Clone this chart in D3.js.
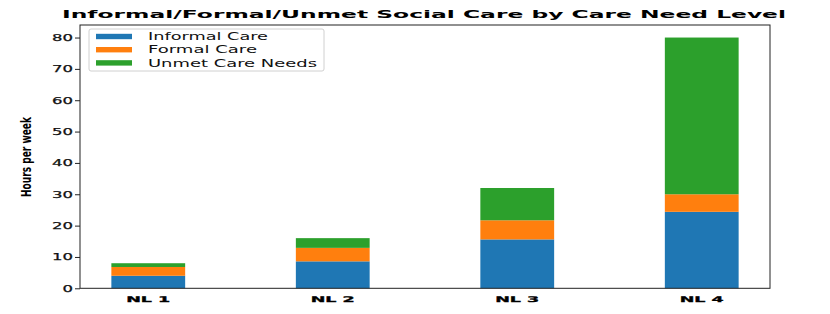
<!DOCTYPE html>
<html>
<head>
<meta charset="utf-8">
<script src="https://cdn.jsdelivr.net/npm/d3@7"></script>
<style>
  body { margin: 0; background: #fff; }
  text { font-family: "DejaVu Sans", sans-serif; }
</style>
</head>
<body>
<div id="chart"></div>
<script>
const width = 830;
const height = 314;

// data
const categories = ["NL 1", "NL 2", "NL 3", "NL 4"];
const informal = [4.0, 8.6, 15.6, 24.4];
const formal = [2.8, 4.3, 6.1, 5.6];
const unmet = [1.2, 3.1, 10.3, 50.0];
const seriesNames = ["Informal Care", "Formal Care", "Unmet Care Needs"];
const colors = ["#1f77b4", "#ff7f0e", "#2ca02c"];
const yTicks = [0, 10, 20, 30, 40, 50, 60, 70, 80];

const margin = { left: 80, right: 60, top: 25, bottom: 25.7 };

const svg = d3.select("#chart")
  .append("svg")
  .attr("width", width)
  .attr("height", height);

// scales
const x = d3.scaleLinear()
  .domain([-0.37, categories.length - 1 + 0.37])
  .range([margin.left, width - margin.right]);
const y = d3.scaleLinear()
  .domain([0, 84])
  .range([height - margin.bottom, margin.top]);
const barW = x(0.2) - x(-0.2);

// stacked data
const rows = categories.map((c, i) => ({
  cat: c, i: i,
  "Informal Care": informal[i],
  "Formal Care": formal[i],
  "Unmet Care Needs": unmet[i]
}));
const stacked = d3.stack().keys(seriesNames)(rows);

svg.selectAll("g.layer")
  .data(stacked)
  .enter()
  .append("g")
  .attr("class", "layer")
  .attr("fill", (d, k) => colors[k])
  .selectAll("rect")
  .data(d => d)
  .enter()
  .append("rect")
  .attr("x", d => x(d.data.i) - barW / 2)
  .attr("width", barW)
  .attr("y", d => y(d[1]))
  .attr("height", d => y(d[0]) - y(d[1]));

// frame
svg.append("rect")
  .attr("x", x.range()[0])
  .attr("y", y.range()[1])
  .attr("width", x.range()[1] - x.range()[0])
  .attr("height", y.range()[0] - y.range()[1])
  .attr("fill", "none")
  .attr("stroke", "#222")
  .attr("stroke-width", 1);

// y axis
const yAxis = svg.append("g")
  .attr("transform", `translate(${margin.left},0)`)
  .call(d3.axisLeft(y).tickValues(yTicks).tickSize(5).tickPadding(2));
yAxis.select(".domain").remove();
yAxis.selectAll(".tick line").attr("stroke", "#222");
yAxis.selectAll(".tick text")
  .attr("fill", "#111")
  .attr("stroke", "#111")
  .attr("stroke-width", 0.25)
  .style("font-size", "9.2px")
  .attr("textLength", d => String(d).length * 10.5)
  .attr("lengthAdjust", "spacingAndGlyphs");

// x labels
svg.append("g")
  .selectAll("text")
  .data(categories)
  .enter()
  .append("text")
  .attr("x", (d, i) => x(i))
  .attr("y", 301.7)
  .attr("text-anchor", "middle")
  .style("font-size", "7.8px")
  .style("font-weight", "bold")
  .attr("stroke", "#000")
  .attr("stroke-width", 0.3)
  .attr("textLength", 44)
  .attr("lengthAdjust", "spacingAndGlyphs")
  .text(d => d);

// title
svg.append("text")
  .attr("x", 62)
  .attr("y", 18.3)
  .style("font-size", "11px")
  .style("font-weight", "bold")
  .attr("textLength", 724)
  .attr("lengthAdjust", "spacingAndGlyphs")
  .text("Informal/Formal/Unmet Social Care by Care Need Level");

// y label
svg.append("text")
  .attr("transform", "translate(31,157) rotate(-90)")
  .attr("text-anchor", "middle")
  .style("font-size", "14px")
  .style("font-weight", "bold")
  .attr("textLength", 80)
  .attr("lengthAdjust", "spacingAndGlyphs")
  .text("Hours per week");

// legend
const legend = svg.append("g");
legend.append("rect")
  .attr("x", 89).attr("y", 29)
  .attr("width", 235).attr("height", 42)
  .attr("rx", 2)
  .attr("fill", "#fff").attr("fill-opacity", 0.8)
  .attr("stroke", "#d0d0d0");
const legendLen = [120, 109, 169];
seriesNames.forEach((s, k) => {
  const cy = 36.5 + k * 13.2;
  legend.append("rect")
    .attr("x", 96).attr("y", cy - 2.7)
    .attr("width", 36).attr("height", 5.4)
    .attr("fill", colors[k]);
  legend.append("text")
    .attr("x", 148).attr("y", cy + 3.6)
    .style("font-size", "9.6px")
    .attr("fill", "#111")
    .attr("textLength", legendLen[k])
    .attr("lengthAdjust", "spacingAndGlyphs")
    .text(s);
});
</script>
</body>
</html>
